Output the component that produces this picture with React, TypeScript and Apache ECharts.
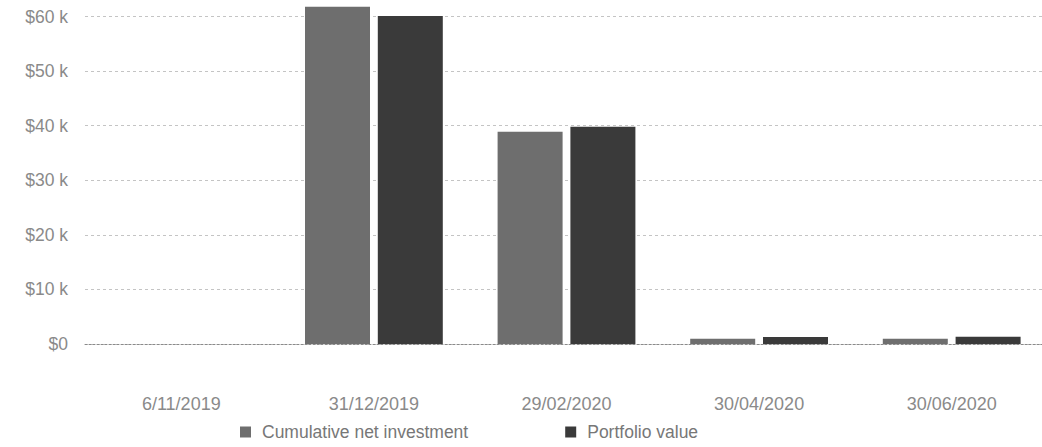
import React, { useEffect, useRef } from "react";
import * as echarts from "echarts";

const dates = ["6/11/2019", "31/12/2019", "29/02/2020", "30/04/2020", "30/06/2020"];
const cumulativeNetInvestment = [0, 61800, 38900, 950, 950];
const portfolioValue = [0, 60100, 39800, 1300, 1350];
const seriesNames = ["Cumulative net investment", "Portfolio value"];

const fmtDollars = (v: number) => (v === 0 ? "$0" : "$" + v / 1000 + " k");

// The chart box is taller than the page and shifted up, so the top of the
// value range ($70 k) sits just above the visible area.
const SHIFT = 38;

export default function App() {
  const ref = useRef<HTMLDivElement>(null);

  useEffect(() => {
    document.body.style.margin = "0";
    document.body.style.overflow = "hidden";
    if (!ref.current) return;
    const chart = echarts.init(ref.current, undefined, { renderer: "svg" });
    chart.setOption({
      animation: false,
      backgroundColor: "#ffffff",
      textStyle: { fontFamily: "Liberation Sans, Arial, sans-serif" },
      grid: { left: 85, right: -6, top: 0, bottom: 103, outerBoundsMode: "none", containLabel: false },
      legend: {
        left: 235,
        top: 418 + SHIFT,
        itemWidth: 11,
        itemHeight: 11,
        itemGap: 97,
        icon: "rect",
        textStyle: {
          color: "#777",
          fontSize: 17.5,
          padding: [0, 0, 0, 6],
          fontFamily: "Liberation Sans, Arial, sans-serif",
        },
        data: seriesNames,
      },
      xAxis: {
        type: "category",
        data: dates,
        axisLine: { show: true, lineStyle: { color: "#8a8a8a", type: [2, 2], width: 1 } },
        axisTick: { show: false },
        axisLabel: { color: "#8a8a8a", fontSize: 18, margin: 51 },
      },
      yAxis: {
        type: "value",
        min: 0,
        max: 70000,
        interval: 10000,
        axisLine: { show: false },
        axisTick: { show: false },
        axisLabel: {
          color: "#8a8a8a",
          fontSize: 17.5,
          margin: 17,
          showMaxLabel: false,
          formatter: fmtDollars,
        },
        splitLine: { lineStyle: { color: "#c4c4c4", type: [3, 3], width: 1 } },
      },
      series: [
        {
          name: seriesNames[0],
          type: "bar",
          data: cumulativeNetInvestment,
          barWidth: 65,
          barGap: "12%",
          itemStyle: { color: "#6e6e6e" },
        },
        {
          name: seriesNames[1],
          type: "bar",
          data: portfolioValue,
          barWidth: 65,
          barGap: "12%",
          itemStyle: { color: "#3a3a3a" },
        },
      ],
    });
    return () => chart.dispose();
  }, []);

  return (
    <div
      ref={ref}
      style={{ width: 1042, height: 447 + SHIFT, position: "absolute", left: 0, top: -SHIFT }}
    />
  );
}
